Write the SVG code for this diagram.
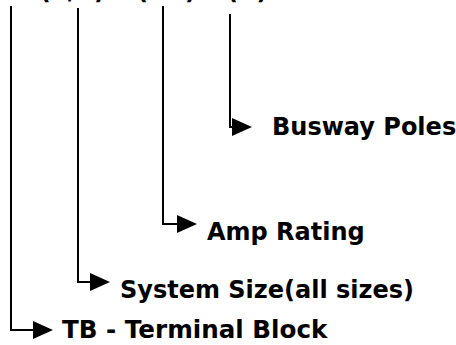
<svg xmlns="http://www.w3.org/2000/svg" width="456" height="345" viewBox="0 0 456 345">
<style>
text{font-family:"DejaVu Sans",Verdana,sans-serif;font-weight:bold;font-size:24px;fill:#000}
.c{fill:none;stroke:#000;stroke-width:2}
</style>
<defs><marker id="a" markerWidth="20" markerHeight="20" refX="0" refY="0" viewBox="0 -10 20 20" orient="auto" markerUnits="userSpaceOnUse"><path d="M0,-9 L20,0 L0,9Z" fill="#000"/></marker></defs>
<g id="code"><text y="-1.5"><tspan x="5">TB(S/S)</tspan><tspan x="137">(XX)</tspan><tspan x="227">(X)</tspan></text></g>
<g id="connectors">
<path class="c" d="M11,6 V330 H33" marker-end="url(#a)"/>
<path class="c" d="M78,8 V282 H90" marker-end="url(#a)"/>
<path class="c" d="M163,6 V224 H177" marker-end="url(#a)"/>
<path class="c" d="M230,14 V127 H232" marker-end="url(#a)"/>
</g>
<g id="busway"><text x="272" y="135">Busway Poles</text></g>
<g id="amp"><text x="207" y="240">Amp Rating</text></g>
<g id="size"><text x="120" y="298">System Size(all sizes)</text></g>
<g id="tb"><text x="62" y="338" style="font-size:24.6px">TB - Terminal Block</text></g>
</svg>
